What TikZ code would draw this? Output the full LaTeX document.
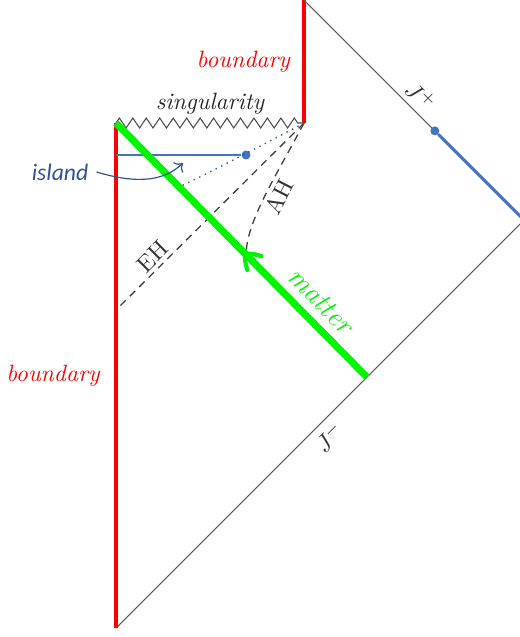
\documentclass[tikz,border=0pt]{standalone}
\usepackage{fontspec}
\newfontfamily\islfont{Carlito}
\usetikzlibrary{positioning,calc,arrows.meta,decorations.pathmorphing,decorations.markings}
\definecolor{islblue}{RGB}{68,114,196}
\definecolor{islink}{RGB}{47,84,150}
\definecolor{mgreen}{RGB}{0,245,0}
\tikzset{
  % --- edges of the diagram ------------------------------------------------
  bdry/.style={red,line width=1.3pt},
  nul/.style={black!65,line width=0.45pt},
  sing/.style={black!70,line width=0.45pt,decorate,
               decoration={zigzag,segment length=5.7pt,amplitude=2.1pt}},
  % --- horizons --------------------------------------------------------------
  hzn/.style={black!75,line width=0.55pt,dash pattern=on 3.2pt off 2.4pt},
  % --- island and matter -----------------------------------------------------
  isl/.style={islblue,line width=1.25pt},
  ispt/.style={circle,fill=islblue,inner sep=0pt,minimum size=3.8pt},
  qes/.style={islblue!80!black,line width=0.6pt,dotted},
  mat/.style={mgreen,line width=3pt,postaction={decorate},
              decoration={markings,mark=at position 0.485 with
              {\draw[mgreen,line width=1.8pt,line cap=round]
                 (-5.5pt,4.2pt) .. controls (-2pt,2.2pt) .. (0,0)
                 .. controls (-2pt,-2.2pt) .. (-5.5pt,-4.2pt);}}},
  % --- labels ----------------------------------------------------------------
  blab/.style={red,font=\itshape},
  lab/.style={text=black!85,font=\itshape},
  hlab/.style={text=black!80,inner sep=1.5pt},
}

\begin{document}
\begin{tikzpicture}[x=0.4235pt, y=-0.4235pt]
  \useasboundingbox (0,0) rectangle (520,637);
  % --- corners of the diagram ----------------------------------------------
  \coordinate (bot)   at (116,628);
  \coordinate (sL)    at (116,123);
  \coordinate (sR)    at (304,123);
  \coordinate (top)   at (304,0);
  \coordinate (izero) at (524,220);
  \coordinate (mS)    at ($(bot)!0.615!(izero)$);
  \coordinate (ehE)   at (116,310);
  \coordinate (ahE)   at (246,256);
  \coordinate (qesE)  at (177,188);
  \coordinate (islpt) at (183,163);

  % --- boundaries, null infinity, singularity ------------------------------
  \draw[bdry] (sL) -- node[blab,left=3pt,pos=0.5]{boundary} (bot);
  \draw[bdry] (top) -- node[blab,left=2pt,pos=0.5]{boundary} (sR);
  \draw[nul] (top) -- node[pos=0.484,sloped,above,inner sep=2pt,text=black!80]{$J^+$} (izero);
  \draw[nul] (bot) -- node[pos=0.495,sloped,below,inner sep=2.5pt,text=black!80]{$J^-$} (izero);
  \draw[sing] (sL) -- node[lab,above=0pt]{singularity} (sR);

  % --- horizons --------------------------------------------------------------
  \draw[hzn] (sR) -- node[hlab,pos=0.76,sloped,above]{EH} (ehE);
  \draw[hzn] (sR) .. controls (275,178) and (246,222) .. node[hlab,pos=0.45,sloped,below]{AH} (ahE);

  % --- the island and its partner on J+ ------------------------------------
  \node[ispt] (q1) at (246,155) {};
  \node[ispt] (q2) at ($(top)!0.595!(izero)$) {};
  \draw[qes] (sR) .. controls (272,140) and (215,170) .. (qesE);
  \draw[isl] (sL |- q1) -- (q1);
  \draw[isl] (q2) -- (izero);

  % --- infalling matter ------------------------------------------------------
  \draw[mat] (mS) -- node[pos=0.243,sloped,above,font=\large\itshape,text=mgreen]{matter} (sL);

  \node[islink,font=\islfont\itshape] (islnd) at (60,172) {island};
  \draw[islink,line width=0.5pt,-{To[length=3pt,width=6pt]}]
    (islnd.east) .. controls (140,185) and (165,180) .. (islpt);
\end{tikzpicture}
\end{document}
